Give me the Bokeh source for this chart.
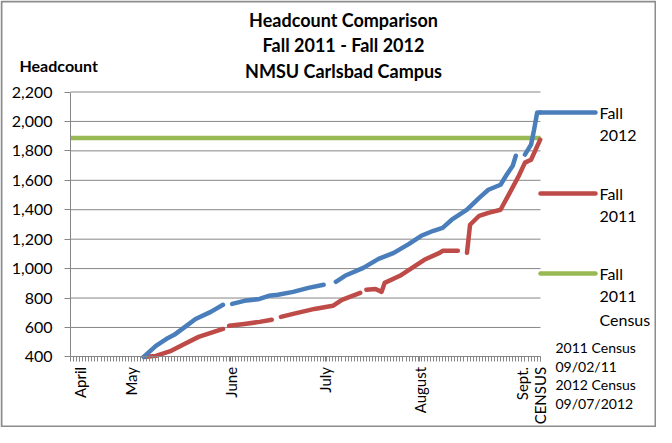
import numpy as np
from bokeh.plotting import figure
from bokeh.models import Range1d, FixedTicker, Label, NumeralTickFormatter
from bokeh.embed import file_html
from bokeh.resources import INLINE

nan = float("nan")

# ---------------- data (x = daily category index on the date axis) ----------------
fall2012_x = [24, 28, 32, 34, 38, 41, 46, 50, nan, 53, 57, 62, 65, 68, 73, 78, 83, nan,
              87, 90, 96, 101, 106, 111, 115, 119, 122, 125, 130, 134, 137, 141, 143, 145, 146, nan,
              149, 151, 152, 153, 154]
fall2012_y = [400, 475, 529, 550, 611, 658, 706, 754, nan, 760, 781, 794, 815, 822, 842, 869, 890, nan,
              910, 951, 1005, 1066, 1107, 1168, 1223, 1257, 1277, 1332, 1400, 1481, 1536, 1570, 1638, 1699, 1767, nan,
              1774, 1842, 1944, 2060, 2060]

fall2011_x = [24, 28, 33, 38, 42, 47, 50, nan, 52, 57, 62, 66, nan, 69, 73, 80, 86, 89, 95, nan,
              97, 100, 102, 103, 108, 112, 116, 121, 122, 127, nan,
              130, 131, 134, 137, 141, 144, 147, 149, 151, 154]
fall2011_y = [400, 407, 441, 495, 536, 570, 590, nan, 611, 624, 638, 652, nan, 672, 692, 726, 747, 788, 835, nan,
              856, 862, 842, 903, 951, 1005, 1060, 1107, 1121, 1121, nan,
              1107, 1298, 1359, 1379, 1400, 1515, 1631, 1720, 1740, 1876]

census2011 = 1888

y_ticks = [400, 600, 800, 1000, 1200, 1400, 1600, 1800, 2000, 2200]
month_pos = [3, 20, 52.5, 83.5, 114.5, 148, 154]
month_labels = ["April", "May", "June", "July", "August", "Sept.", "CENSUS"]
n_days = 154

title_lines = ["Headcount Comparison", "Fall 2011 - Fall 2012", "NMSU Carlsbad Campus"]
legend_names = [["Fall", "2012"], ["Fall", "2011"], ["Fall", "2011", "Census"]]
note_lines = ["2011 Census", "09/02/11", "2012 Census", "09/07/2012"]

# ---------------- layout helpers ----------------
FONT = "Lato"
BLUE = "#4A7EBB"
RED = "#BE4B48"
GREEN = "#98B954"
GRAY = "#868686"

W, H = 656, 427
PXU = 3.05                 # pixels per day category
X0_REF = 78.0              # page px of category 0 (plot-area left)
Y400_REF = 364.4           # page px of value 400
YPP = 1800.0 / 264.9       # value units per pixel
X_END = n_days + 0.1       # end of plot area


def rx(ref_px):
    return (ref_px - X0_REF) / PXU


def ry(ref_py):
    return 400 + (Y400_REF - ref_py) * YPP


p = figure(width=W, height=H, output_backend="svg", toolbar_location=None,
           x_range=Range1d(rx(8), rx(8 + W)), y_range=Range1d(ry(8 + H), ry(8)),
           min_border_left=0, min_border_right=0, min_border_top=0, min_border_bottom=0,
           background_fill_color="white", border_fill_color="white")
p.outline_line_color = None
p.xgrid.grid_line_color = None
p.ygrid.grid_line_color = None

# outer chart border
p.quad(left=[rx(9)], right=[rx(8 + W - 1)], top=[ry(9)], bottom=[ry(8 + H - 1)],
       fill_color=None, line_color="#8c8c8c", line_width=2)

# grid lines limited to plot area
grid_vals = [v for v in y_ticks if v > 400]
p.multi_line(xs=[[0, X_END] for _ in grid_vals], ys=[[v, v] for v in grid_vals],
             line_color=GRAY, line_width=1)

# series
p.line(x=[0, X_END], y=[census2011, census2011], line_color=GREEN, line_width=4.5)
p.line(x=np.array(fall2011_x), y=np.array(fall2011_y), line_color=RED, line_width=4.5,
       line_cap="round", line_join="round")
p.line(x=np.array(fall2012_x), y=np.array(fall2012_y), line_color=BLUE, line_width=4.5,
       line_cap="round", line_join="round")

# legend swatches + text
leg_y = [120, 201, 281]
leg_cols = [BLUE, RED, GREEN]
for ly, col, names in zip(leg_y, leg_cols, legend_names):
    p.line(x=[rx(548), rx(603)], y=[ry(ly), ry(ly)], line_color=col, line_width=4.5, line_cap="round")
    for k, t in enumerate(names):
        p.add_layout(Label(x=rx(607), y=ry(ly + k * 23), text=t, text_font=FONT,
                           text_font_size="16px", text_baseline="middle", text_align="left",
                           text_color="black"))

# notes
for k, t in enumerate(note_lines):
    p.add_layout(Label(x=rx(563), y=ry(355 + k * 18.5), text=t, text_font=FONT,
                       text_font_size="14px", text_baseline="middle", text_align="left",
                       text_color="black"))

# title
for k, t in enumerate(title_lines):
    p.add_layout(Label(x=rx(351), y=ry(27 + k * 25.5), text=t, text_font=FONT,
                       text_font_size="18px", text_font_style="bold", text_baseline="middle",
                       text_align="center", text_color="black"))
p.add_layout(Label(x=rx(27), y=ry(73), text="Headcount", text_font=FONT,
                   text_font_size="16px", text_font_style="bold", text_baseline="middle",
                   text_align="left", text_color="black"))

# axes (fixed inside the frame so that the whole canvas is drawable)
xa = p.xaxis[0]
xa.fixed_location = 400
xa.ticker = FixedTicker(ticks=month_pos, minor_ticks=list(range(0, n_days + 1)))
xa.major_label_overrides = {pos: lab for pos, lab in zip(month_pos, month_labels)}
xa.major_label_orientation = np.pi / 2
xa.bounds = (0, X_END)
xa.axis_line_color = GRAY
xa.major_tick_out = 5
xa.major_tick_in = 0
xa.minor_tick_out = 5
xa.minor_tick_in = 0
xa.major_tick_line_color = GRAY
xa.minor_tick_line_color = GRAY
xa.major_label_standoff = 5
xa.major_label_text_font = FONT
xa.major_label_text_font_size = "15px"
xa.major_label_text_color = "black"

ya = p.yaxis[0]
ya.fixed_location = 0
ya.ticker = FixedTicker(ticks=y_ticks, minor_ticks=[])
ya.formatter = NumeralTickFormatter(format="0,0")
ya.bounds = (400, 2200)
ya.axis_line_color = GRAY
ya.major_tick_out = 6
ya.major_tick_in = 0
ya.major_tick_line_color = GRAY
ya.major_label_standoff = 12
ya.major_label_text_font = FONT
ya.major_label_text_font_size = "16px"
ya.major_label_text_color = "black"

open("out.html", "w").write(file_html(p, INLINE))
